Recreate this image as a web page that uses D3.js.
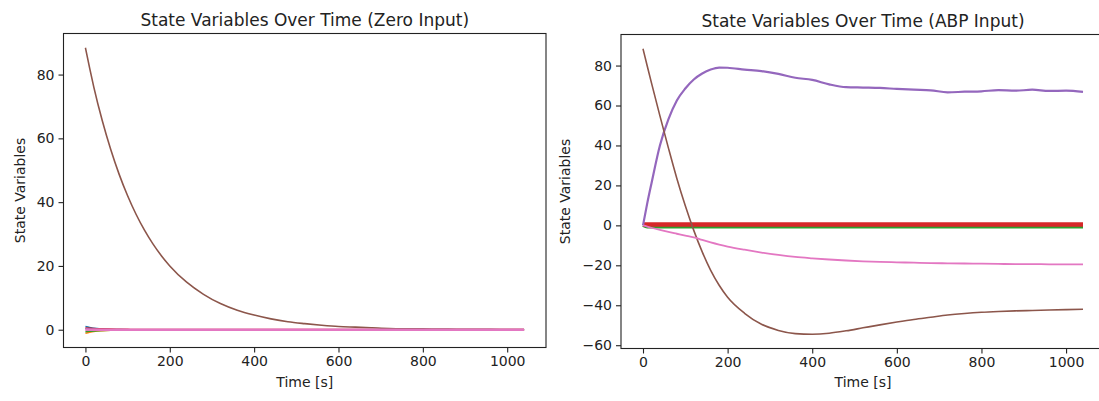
<!DOCTYPE html>
<html>
<head>
<meta charset="utf-8">
<script src="https://cdn.jsdelivr.net/npm/d3@7"></script>
<style>
  body { margin: 0; background: #fff; }
  text { font-family: "DejaVu Sans", sans-serif; fill: #222; }
</style>
</head>
<body>
<div id="root"></div>
<script>
//DATA
const time = [0, 10, 20, 40, 60, 80, 100, 120, 140, 160, 180, 200, 240, 280, 320, 360, 400,
  440, 480, 520, 560, 600, 640, 680, 720, 760, 800, 840, 880, 920, 960, 1000, 1040];

const xTicks = [0, 200, 400, 600, 800, 1000];
const yTicksZero = [0, 20, 40, 60, 80];
const yTicksAbp = [-60, -40, -20, 0, 20, 40, 60, 80];

//ZERO INPUT STATES
const zeroX1 = [1.0, 0.7, 0.45, 0.2, 0.08, 0.03, 0, 0, 0, 0, 0, 0, 0, 0, 0, 0, 0, 0, 0, 0, 0, 0, 0, 0, 0, 0, 0, 0, 0, 0, 0, 0, 0];
const zeroX2 = [-1.1, -0.8, -0.55, -0.3, -0.15, -0.08, -0.04, -0.02, 0, 0, 0, 0, 0, 0, 0, 0, 0, 0, 0, 0, 0, 0, 0, 0, 0, 0, 0, 0, 0, 0, 0, 0, 0];
const zeroX3 = [-0.6, -0.5, -0.4, -0.25, -0.15, -0.08, -0.04, 0, 0, 0, 0, 0, 0, 0, 0, 0, 0, 0, 0, 0, 0, 0, 0, 0, 0, 0, 0, 0, 0, 0, 0, 0, 0];
const zeroX4 = [0.5, 0.4, 0.3, 0.2, 0.12, 0.06, 0.03, 0, 0, 0, 0, 0, 0, 0, 0, 0, 0, 0, 0, 0, 0, 0, 0, 0, 0, 0, 0, 0, 0, 0, 0, 0, 0];
const zeroX5 = [0.3, 0.2, 0.1, 0.05, 0, 0, 0, 0, 0, 0, 0, 0, 0, 0, 0, 0, 0, 0, 0, 0, 0, 0, 0, 0, 0, 0, 0, 0, 0, 0, 0, 0, 0];
const zeroX6 = [88.4, 82, 76, 65.5, 56.5, 48.7, 42, 36.2, 31.2, 26.9, 23.2, 20, 14.9, 11.1, 8.2, 6.1, 4.6,
  3.4, 2.5, 1.9, 1.4, 1.0, 0.8, 0.6, 0.4, 0.3, 0.25, 0.2, 0.15, 0.1, 0.1, 0.05, 0.05];
const zeroX7 = [0, 0, 0, 0, 0, 0, 0, 0, 0, 0, 0, 0, 0, 0, 0, 0, 0, 0, 0, 0, 0, 0, 0, 0, 0, 0, 0, 0, 0, 0, 0, 0, 0];

//ABP INPUT STATES
const abpX1 = [0, 0, 0, 0, 0, 0, 0, 0, 0, 0, 0, 0, 0, 0, 0, 0, 0, 0, 0, 0, 0, 0, 0, 0, 0, 0, 0, 0, 0, 0, 0, 0, 0];
const abpX2 = [0, 0, 0, 0, 0, 0, 0, 0, 0, 0, 0, 0, 0, 0, 0, 0, 0, 0, 0, 0, 0, 0, 0, 0, 0, 0, 0, 0, 0, 0, 0, 0, 0];
const abpX3 = [0, -0.8, -0.8, -0.8, -0.8, -0.8, -0.8, -0.8, -0.8, -0.8, -0.8, -0.8, -0.8, -0.8, -0.8, -0.8, -0.8,
  -0.8, -0.8, -0.8, -0.8, -0.8, -0.8, -0.8, -0.8, -0.8, -0.8, -0.8, -0.8, -0.8, -0.8, -0.8, -0.8];
const abpX4 = [0.4, 0.4, 0.4, 0.4, 0.4, 0.4, 0.4, 0.4, 0.4, 0.4, 0.4, 0.4, 0.4, 0.4, 0.4, 0.4, 0.4,
  0.4, 0.4, 0.4, 0.4, 0.4, 0.4, 0.4, 0.4, 0.4, 0.4, 0.4, 0.4, 0.4, 0.4, 0.4, 0.4];
const abpX5 = [0, 11, 21, 40, 53, 62.5, 68.5, 73, 76, 78, 79, 78.9, 78, 77.2, 75.8, 73.9, 72.8,
  70.6, 69.2, 69, 68.8, 68.3, 67.9, 67.6, 66.6, 66.9, 67.1, 67.7, 67.4, 67.9, 67.3, 67.4, 66.8];
const abpX6 = [88.4, 79.8, 71.3, 54.8, 38.8, 23.5, 9.8, -2.5, -13.3, -22.5, -30, -36, -44, -49.5, -52.6, -54.2, -54.5,
  -54, -52.8, -51.3, -49.8, -48.4, -47.1, -46, -44.9, -44.1, -43.5, -43.1, -42.8, -42.6, -42.4, -42.2, -42];
const abpX7 = [0, -0.6, -1.2, -2.3, -3.3, -4.2, -5.1, -6, -7.3, -8.5, -9.6, -10.6, -12.2, -13.6, -14.8, -15.8, -16.5,
  -17.1, -17.6, -18, -18.3, -18.5, -18.7, -18.9, -19, -19.1, -19.2, -19.3, -19.4, -19.4, -19.5, -19.5, -19.5];

const colors = ["#1f77b4", "#ff7f0e", "#2ca02c", "#d62728", "#9467bd", "#8c564b", "#e377c2"];

//SVG
const width = 1099, height = 401;
const svg = d3.select('#root')
  .append('svg')
  .attr('width', width)
  .attr('height', height);

function drawPanel(p) {
  const x = d3.scaleLinear().range([p.left, p.right]);
  const y = d3.scaleLinear().range([p.bottom, p.top]);

  // matplotlib style 5% margins
  const tMin = d3.min(time), tMax = d3.max(time);
  const vals = p.series.flat();
  const vMin = d3.min(vals), vMax = d3.max(vals);
  const dx = (tMax - tMin) * 0.05, dy = (vMax - vMin) * 0.05;
  x.domain([tMin - dx, tMax + dx]);
  y.domain([vMin - dy, vMax + dy]);

  const g = svg.append('g');

  // clip
  const clipId = 'clip' + p.left;
  g.append('clipPath').attr('id', clipId)
    .append('rect')
    .attr('x', p.left).attr('y', p.top)
    .attr('width', p.right - p.left).attr('height', p.bottom - p.top);

  // LINES
  const line = d3.line()
    .x((d, i) => x(time[i]))
    .y(d => y(d))
    .curve(d3.curveMonotoneX);

  g.append('g').attr('clip-path', `url(#${clipId})`)
    .selectAll('path')
    .data(p.series)
    .join('path')
    .attr('fill', 'none')
    .attr('stroke', (d, i) => colors[i])
    .attr('stroke-width', (d, i) => p.widths[i])
    .attr('stroke-linejoin', 'round')
    .attr('d', line);

  // AXES
  const xAxis = g.append('g')
    .attr('transform', `translate(0,${p.bottom})`)
    .call(d3.axisBottom(x).tickValues(xTicks).tickSize(5).tickPadding(4).tickFormat(d3.format('d')));
  const yAxis = g.append('g')
    .attr('transform', `translate(${p.left},0)`)
    .call(d3.axisLeft(y).tickValues(p.yTicks).tickSize(5).tickPadding(4)
      .tickFormat(d => d < 0 ? '\u2212' + Math.abs(d) : d));

  [xAxis, yAxis].forEach(a => {
    a.select('.domain').remove();
    a.selectAll('line').attr('stroke', '#222').attr('stroke-width', 1.1);
    a.selectAll('text').style('font-size', '14px').attr('fill', '#222');
  });

  // FRAME
  g.append('rect')
    .attr('x', p.left).attr('y', p.top)
    .attr('width', p.right - p.left).attr('height', p.bottom - p.top)
    .attr('fill', 'none').attr('stroke', '#222').attr('stroke-width', 1.1);

  // LABELS
  g.append('text')
    .attr('x', (p.left + p.right) / 2).attr('y', p.top - 8)
    .attr('text-anchor', 'middle')
    .style('font-size', '17px')
    .text(p.title);

  g.append('text')
    .attr('x', (p.left + p.right) / 2).attr('y', 387)
    .attr('text-anchor', 'middle')
    .style('font-size', '14px')
    .text('Time [s]');

  g.append('text')
    .attr('transform', `translate(${p.ylabelX},${(p.top + p.bottom) / 2}) rotate(-90)`)
    .attr('text-anchor', 'middle')
    .style('font-size', '14px')
    .text('State Variables');
}

drawPanel({
  left: 63.5, right: 546, top: 33.5, bottom: 347.5,
  title: 'State Variables Over Time (Zero Input)',
  yTicks: yTicksZero, ylabelX: 25,
  series: [zeroX1, zeroX2, zeroX3, zeroX4, zeroX5, zeroX6, zeroX7],
  widths: [1.6, 1.6, 1.6, 2, 1.6, 1.6, 2.6]
});

drawPanel({
  left: 621, right: 1105, top: 34.5, bottom: 348.5,
  title: 'State Variables Over Time (ABP Input)',
  yTicks: yTicksAbp, ylabelX: 569.5,
  series: [abpX1, abpX2, abpX3, abpX4, abpX5, abpX6, abpX7],
  widths: [1.6, 1.6, 3, 4.5, 2.2, 1.6, 1.8]
});
</script>
</body>
</html>
